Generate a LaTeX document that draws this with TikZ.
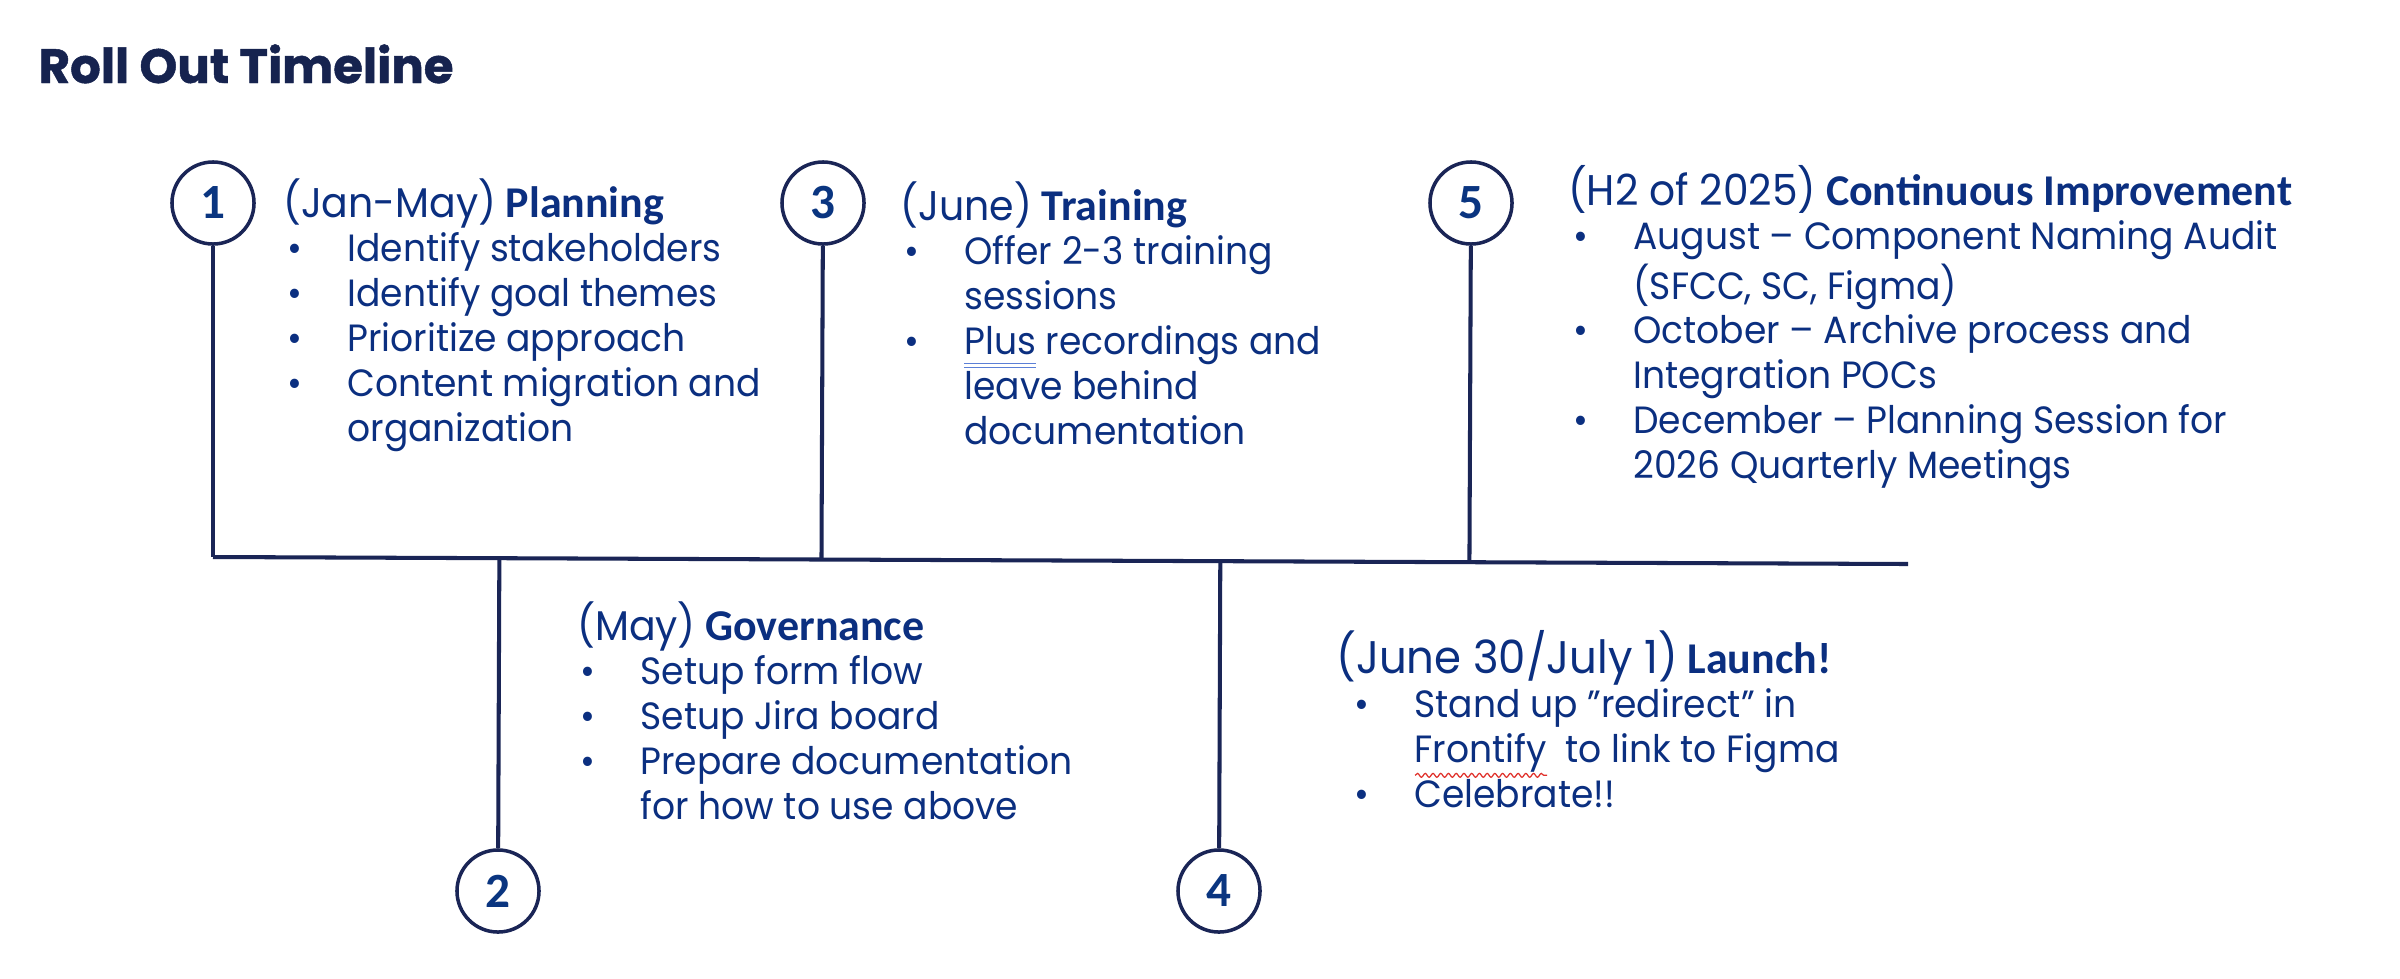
\documentclass[tikz,border=0pt]{standalone}
\usepackage{fontspec}
\setmainfont{Poppins}[FakeStretch=0.95]
\newfontfamily\titlefont{Poppins}[BoldFeatures={FakeBold=1}]
\newfontfamily\hdfont{Carlito}
\usetikzlibrary{calc,decorations.pathmorphing}
\definecolor{textblue}{HTML}{0B2F80}
\definecolor{titlecol}{HTML}{16234F}
\definecolor{linecol}{HTML}{1A2556}
\definecolor{numblue}{HTML}{0A3580}
\definecolor{ulblue}{HTML}{5B7FD6}
\definecolor{wavered}{HTML}{E0302A}
\newlength\ulw
\newcommand\redwave[1]{\settowidth\ulw{#1}\rlap{\raisebox{-3.6pt}{\tikz[baseline=0pt]\draw[wavered,line width=0.35pt,decorate,decoration={snake,amplitude=0.55pt,segment length=2.2pt}] (0pt,0pt) -- (\ulw,0pt);}}#1}
\newcommand\blueuu[1]{\settowidth\ulw{#1}\rlap{\textcolor{ulblue}{\rule[-2.8pt]{\ulw}{0.45pt}}}\rlap{\textcolor{ulblue}{\rule[-3.9pt]{\ulw}{0.45pt}}}#1}
\newcommand\hd[1]{{\hdfont\bfseries\fontsize{12.5pt}{12.75pt}\selectfont #1}}
\newcommand\hr[2][11.8pt]{{\fontsize{#1}{12.75pt}\selectfont #2}}
\newcommand\bl{\makebox[17pt][l]{•}}
\newcommand\ind{\hspace*{17pt}}
\newcommand\blk[1]{\vtop{\hsize=12cm\parindent=0pt\parskip=0pt\fontsize{10.8pt}{12.75pt}\selectfont\raggedright #1}}
\begin{document}
\begin{tikzpicture}[x=0.01cm,y=-0.01cm,
  ring/.style={circle, draw=linecol, line width=1pt, minimum size=0.82cm, inner sep=0pt,
    font=\hdfont\bfseries\fontsize{14pt}{14pt}\selectfont, text=numblue},
  conn/.style={draw=linecol, line width=1.15pt},
  blkstyle/.style={anchor=base west, inner sep=0pt, text=textblue}]
\useasboundingbox[fill=white] (0,0) rectangle (2400,978);

\node[anchor=base west, inner sep=0pt, text=titlecol,
  font=\titlefont\bfseries\fontsize{13.7pt}{16pt}\selectfont] (title) at (38,83) {Roll Out Timeline};

\node[ring] (c1) at (213,203) {1};
\node[ring] (c3) at (823,203) {3};
\node[ring] (c5) at (1471,203) {5};
\node[ring] (c2) at (498,891) {2};
\node[ring] (c4) at (1219,891) {4};

\coordinate (L) at (213,557);
\coordinate (R) at (1908,564);
\draw[conn] (L) -- (R);
\draw[conn] (c1) -- (L);
\draw[conn] (c3) -- ($(L)!(c3)!(R)$);
\draw[conn] (c5) -- ($(L)!(c5)!(R)$);
\draw[conn] ($(L)!(c2)!(R)$) -- (c2);
\draw[conn] ($(L)!(c4)!(R)$) -- (c4);

\node[blkstyle] (t1) at (287,217) {\blk{\hspace*{-1.3pt}\hr{(Jan-May)} \hd{Planning}\par
\bl Identify stakeholders\par
\bl Identify goal themes\par
\bl Prioritize approach\par
\bl Content migration and\par
\ind organization}};

\node[blkstyle] (t3) at (904,220) {\blk{\hspace*{-1.2pt}\hr{(June)} \hd{Training}\par
\bl Offer 2-3 training\par
\ind sessions\par
\bl \blueuu{Plus} recordings and\par
\ind leave behind\par
\ind documentation}};

\node[blkstyle] (t5) at (1573,205) {\blk{\hspace*{-1.5pt}\hr[12.2pt]{(H2 of 2025)} \hd{Continuous Improvement}\par
\bl August – Component Naming Audit\par
\ind (SFCC, SC, Figma)\par
\bl October – Archive process and\par
\ind Integration POCs\par
\bl December – Planning Session for\par
\ind 2026 Quarterly Meetings}};

\node[blkstyle] (t2) at (580,640) {\blk{\hspace*{-1pt}\hr{(May)} \hd{Governance}\par
\bl Setup form flow\par
\bl Setup Jira board\par
\bl Prepare documentation\par
\ind for how to use above}};

\node[blkstyle] (t4) at (1354,673) {\blk{\hspace*{-5.2pt}\hr[13pt]{(June 30/July 1)} \hd{Launch!}\par
\bl Stand up ”redirect” in\par
\ind \redwave{Frontify}\ \ to link to Figma\par
\bl Celebrate!!}};
\end{tikzpicture}
\end{document}
